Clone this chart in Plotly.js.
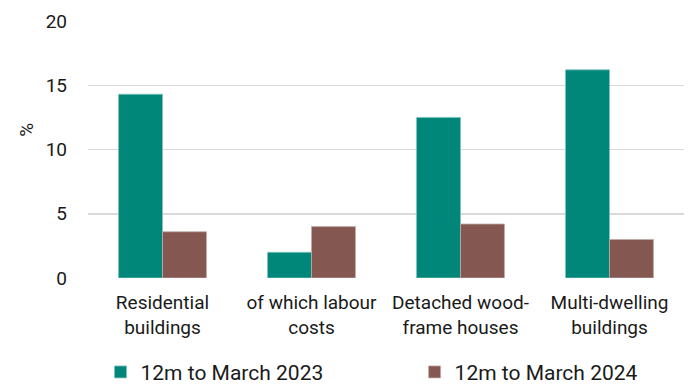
<!DOCTYPE html>
<html><head><meta charset="utf-8">
<script src="https://cdn.plot.ly/plotly-3.0.1.min.js"></script>
<style>html,body{margin:0;padding:0;background:#fff}</style>
</head><body>
<div id="chart" style="width:691px;height:385px"></div>
<script>
const categories = ["Residential<br>buildings", "of which labour<br>costs", "Detached wood-<br>frame houses", "Multi-dwelling<br>buildings"];
const series2023 = [14.3, 2.0, 12.5, 16.2];
const series2024 = [3.6, 4.0, 4.2, 3.0];
const seriesNames = ["12m to March 2023", "12m to March 2024"];
const yTicks = [0, 5, 10, 15, 20];
const yTitle = "%";

const font = "Roboto, 'Noto Sans', Arial, sans-serif";
const traces = [
  {type: "bar", x: categories, y: series2023, name: seriesNames[0], legend: "legend",
   marker: {color: "#00877a", line: {color: "#7fc3bc", width: 0.8}}},
  {type: "bar", x: categories, y: series2024, name: seriesNames[1], legend: "legend2",
   marker: {color: "#845851", line: {color: "#c2aba8", width: 0.8}}}
];
const legendBase = {orientation: "h", xanchor: "left", y: -0.287, yanchor: "top",
                    font: {size: 21}, itemwidth: 30, bgcolor: "rgba(0,0,0,0)"};
const layout = {
  width: 691, height: 385,
  margin: {l: 88, r: 7, t: 21, b: 107, autoexpand: false},
  paper_bgcolor: "#fff", plot_bgcolor: "#fff",
  barmode: "group", bargap: 0.41, bargroupgap: 0,
  font: {family: font, size: 19, color: "#1a1a1a"},
  xaxis: {automargin: false, showline: false, ticks: "", tickfont: {size: 19}, showgrid: false,
          zeroline: false, ticklabelstandoff: 11},
  yaxis: {automargin: false, range: [0, 20], tickvals: yTicks, showgrid: true, gridcolor: "#d9d9d9", gridwidth: 1.5,
          zeroline: false, tickfont: {size: 19}, ticklabelstandoff: 20},
  annotations: [{text: yTitle, textangle: -90, xref: "paper", yref: "paper", x: -0.103, y: 0.575,
                 xanchor: "center", yanchor: "middle", showarrow: false, font: {size: 19}}],
  showlegend: true,
  legend: Object.assign({}, legendBase, {x: 0.021}),
  legend2: Object.assign({}, legendBase, {x: 0.548})
};
Plotly.newPlot("chart", traces, layout, {displayModeBar: false, staticPlot: true});
</script>
</body></html>
